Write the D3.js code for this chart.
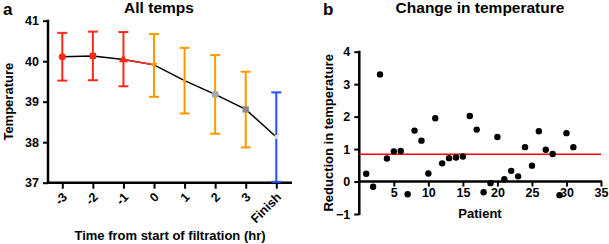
<!DOCTYPE html>
<html>
<head>
<meta charset="utf-8">
<script src="https://cdn.jsdelivr.net/npm/d3@7"></script>
<style>
  body { margin: 0; background: #fff; }
  svg { display: block; font-family: "Liberation Sans", Arial, sans-serif; font-weight: bold; }
</style>
</head>
<body>
<svg id="chart" width="609" height="244"></svg>
<script>
// panel a: mean temperature with error bars
const timeLabels = ["-3", "-2", "-1", "0", "1", "2", "3", "Finish"];
const tempMean = [40.11, 40.13, 40.04, 39.91, 39.52, 39.18, 38.81, 38.13];
const tempHigh = [40.70, 40.73, 40.72, 40.67, 40.33, 40.15, 39.74, 39.23];
const tempLow = [39.52, 39.53, 39.38, 39.12, 38.71, 38.21, 37.87, 37.02];
const barColors = ["#ff2a1a", "#ff2a1a", "#ff2a1a", "#ff9900", "#ff9900", "#ff9900", "#ff9900", "#1f4fff"];
const markerShapes = ["circle", "square", "triangle", "triangleDown", "circle", "circle", "square", "circle"];
const markerColors = ["#ff2a1a", "#ff2a1a", "#ff2a1a", "#ff9900", "#ff9900", "#a9a9a9", "#8a8a8a", "#e0e0e8"];
const markerSizes = [40, 40, 36, 20, 10, 40, 40, 14];
const tempTicks = [37, 38, 39, 40, 41];

// panel b: reduction in temperature per patient
const patients = d3.range(1, 32);
const reduction = [0.24, -0.16, 3.30, 0.71, 0.93, 0.94, -0.39, 1.57, 1.26, 0.25,
                   1.95, 0.56, 0.72, 0.74, 0.77, 2.02, 1.60, -0.33, -0.05, 1.37,
                   0.07, 0.33, 0.16, 1.06, 0.49, 1.55, 0.98, 0.85, -0.42, 1.49, 1.06];
const meanReduction = 0.84;
const patientTicks = [5, 10, 15, 20, 25, 30, 35];
const reductionTicks = [-1, 0, 1, 2, 3, 4];

const svg = d3.select("#chart");

function drawPanelA() {
    const g = svg.append("g");
    const scX = d3.scalePoint().domain(timeLabels).range([62.3, 276.3]);
    const scY = d3.scaleLinear().domain([37, 41]).range([182.7, 20.7]);

    // y axis
    const axY = g.append("g")
        .attr("transform", "translate(48,0)")
        .call(d3.axisLeft(scY).tickValues(tempTicks).tickFormat(d3.format("d")).tickSize(5).tickSizeOuter(0));
    axY.select(".domain").remove();
    axY.selectAll(".tick line").attr("stroke", "#000").attr("stroke-width", 2);
    axY.selectAll(".tick text").attr("font-size", 12.5).attr("font-weight", "bold").attr("fill", "#000").attr("dx", "-1");
    g.append("line").attr("x1", 48).attr("x2", 48)
        .attr("y1", scY(41) - 1).attr("y2", scY(37) + 1)
        .attr("stroke", "#000").attr("stroke-width", 2.5);

    // x axis
    const axX = g.append("g")
        .attr("transform", `translate(0,${scY(37)})`)
        .call(d3.axisBottom(scX).tickSize(6).tickSizeOuter(0));
    axX.select(".domain").remove();
    axX.selectAll(".tick line").attr("stroke", "#000").attr("stroke-width", 2);
    axX.selectAll(".tick text")
        .attr("font-size", 12.5).attr("font-weight", "bold").attr("fill", "#000")
        .style("text-anchor", "end")
        .attr("x", -7).attr("y", 10).attr("dy", "0.35em")
        .attr("transform", "rotate(-45)");
    g.append("line").attr("x1", 48).attr("x2", 292)
        .attr("y1", scY(37)).attr("y2", scY(37))
        .attr("stroke", "#000").attr("stroke-width", 2.5);

    // error bars
    const bars = g.selectAll(".err").data(timeLabels).enter().append("g");
    bars.append("line")
        .attr("x1", d => scX(d)).attr("x2", d => scX(d))
        .attr("y1", (d, i) => scY(tempHigh[i])).attr("y2", (d, i) => scY(tempLow[i]))
        .attr("stroke", (d, i) => barColors[i]).attr("stroke-width", 2);
    bars.append("line")
        .attr("x1", d => scX(d) - 5).attr("x2", d => scX(d) + 5)
        .attr("y1", (d, i) => scY(tempHigh[i])).attr("y2", (d, i) => scY(tempHigh[i]))
        .attr("stroke", (d, i) => barColors[i]).attr("stroke-width", 2);
    bars.append("line")
        .attr("x1", d => scX(d) - 5).attr("x2", d => scX(d) + 5)
        .attr("y1", (d, i) => scY(tempLow[i])).attr("y2", (d, i) => scY(tempLow[i]))
        .attr("stroke", (d, i) => barColors[i]).attr("stroke-width", 2);

    // mean line
    const pts = timeLabels.map((d, i) => ({ label: d, value: tempMean[i] }));
    const line = d3.line().x(d => scX(d.label)).y(d => scY(d.value));
    g.append("path").datum(pts)
        .attr("fill", "none").attr("stroke", "#000").attr("stroke-width", 1.5)
        .attr("d", line);
    g.append("path").datum(pts.slice(2, 4))
        .attr("fill", "none").attr("stroke", "#ff2a1a").attr("stroke-width", 1.5)
        .attr("d", line);

    // markers
    const symbolTypes = {
        circle: d3.symbolCircle, square: d3.symbolSquare,
        triangle: d3.symbolTriangle, triangleDown: d3.symbolTriangle
    };
    g.selectAll(".mk").data(pts).enter().append("path")
        .attr("d", (d, i) => d3.symbol().type(symbolTypes[markerShapes[i]]).size(markerSizes[i])())
        .attr("transform", (d, i) => `translate(${scX(d.label)},${scY(d.value)})` + (markerShapes[i] === "triangleDown" ? " rotate(180)" : ""))
        .attr("fill", (d, i) => markerColors[i]);

    // texts
    g.append("text").attr("x", 3).attr("y", 15).attr("font-size", 17).text("a");
    g.append("text").attr("x", 159).attr("y", 13).attr("text-anchor", "middle").attr("font-size", 15.5).text("All temps");
    g.append("text").attr("transform", `translate(13,${(scY(37) + scY(41)) / 2}) rotate(-90)`)
        .attr("text-anchor", "middle").attr("font-size", 13).text("Temperature");
    g.append("text").attr("x", 170).attr("y", 240).attr("text-anchor", "middle").attr("font-size", 13)
        .text("Time from start of filtration (hr)");
}

function drawPanelB() {
    const g = svg.append("g");
    const scX = d3.scaleLinear().domain([0, 35]).range([359.3, 601]);
    const scY = d3.scaleLinear().domain([-1, 4]).range([214, 51.7]);

    // y axis
    const axY = g.append("g")
        .attr("transform", `translate(${scX(0)},0)`)
        .call(d3.axisLeft(scY).tickValues(reductionTicks).tickFormat(d3.format("d")).tickSize(5).tickSizeOuter(0));
    axY.select(".domain").remove();
    axY.selectAll(".tick line").attr("stroke", "#000").attr("stroke-width", 2);
    axY.selectAll(".tick text").attr("font-size", 12.5).attr("font-weight", "bold").attr("fill", "#000").attr("dx", "-1");
    g.append("line").attr("x1", scX(0)).attr("x2", scX(0))
        .attr("y1", scY(4) - 1).attr("y2", scY(-1) + 1)
        .attr("stroke", "#000").attr("stroke-width", 2.5);

    // x axis at zero
    const axX = g.append("g")
        .attr("transform", `translate(0,${scY(0)})`)
        .call(d3.axisBottom(scX).tickValues(patientTicks).tickSize(5).tickSizeOuter(0));
    axX.select(".domain").remove();
    axX.selectAll(".tick line").attr("stroke", "#000").attr("stroke-width", 2);
    axX.selectAll(".tick text").attr("font-size", 12.5).attr("font-weight", "bold").attr("fill", "#000").attr("y", 7);
    g.append("line").attr("x1", scX(0)).attr("x2", scX(35) + 1)
        .attr("y1", scY(0)).attr("y2", scY(0))
        .attr("stroke", "#000").attr("stroke-width", 2.5);

    // mean line
    g.append("line").attr("x1", scX(0)).attr("x2", scX(35))
        .attr("y1", scY(meanReduction)).attr("y2", scY(meanReduction))
        .attr("stroke", "#ff0000").attr("stroke-width", 1.5);

    // points
    g.selectAll(".dot").data(patients).enter().append("circle")
        .attr("cx", d => scX(d)).attr("cy", (d, i) => scY(reduction[i]))
        .attr("r", 3.2).attr("fill", "#000");

    // texts
    g.append("text").attr("x", 323).attr("y", 15).attr("font-size", 17).text("b");
    g.append("text").attr("x", 480).attr("y", 13).attr("text-anchor", "middle").attr("font-size", 15.5).text("Change in temperature");
    g.append("text").attr("transform", `translate(333,${(scY(4) + scY(-1)) / 2}) rotate(-90)`)
        .attr("text-anchor", "middle").attr("font-size", 13).text("Reduction in temperature");
    g.append("text").attr("x", 480).attr("y", 218).attr("text-anchor", "middle").attr("font-size", 13).text("Patient");
}

drawPanelA();
drawPanelB();
</script>
</body>
</html>
